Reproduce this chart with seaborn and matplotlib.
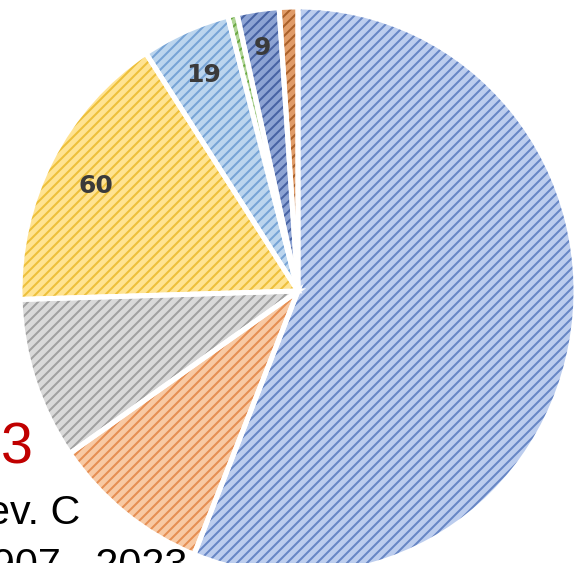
import matplotlib
matplotlib.use("Agg")
import matplotlib.pyplot as plt
import numpy as np
import seaborn as sns

# Slice data (clockwise from 12 o'clock)
categories = ["A", "B", "C", "D", "E", "F", "G", "H"]
values = [207, 34, 34, 60, 19, 2, 9, 4]
shown_labels = ["", "", "", "60", "19", "", "9", ""]
label_radius = [0.84, 0.84, 0.84, 0.82, 0.84, 0.84, 0.875, 0.84]

face_colors = ["#BCCDEE", "#F8C9A3", "#D9D9D9", "#FFE391",
               "#BBD5EE", "#B0D596", "#8DA3D3", "#E09C68"]
hatch_colors = ["#6685C4", "#E58E52", "#A0A0A0", "#EDBF3A",
                "#76A3D5", "#6AA842", "#4762A3", "#A95F28"]

sns.set_theme(style="white")
plt.rcParams["font.family"] = ["Liberation Sans", "DejaVu Sans"]
plt.rcParams["hatch.linewidth"] = 1.6

W, H, DPI = 582, 563, 90
fig = plt.figure(figsize=(W / DPI, H / DPI), dpi=DPI)
fig.patch.set_facecolor("white")
ax = fig.add_axes([0, 0, 1, 1])

# hatched fills
wedges, texts = ax.pie(
    values, labels=shown_labels, startangle=90, counterclock=False,
    colors=face_colors, labeldistance=0.84,
    wedgeprops=dict(linewidth=0, hatch="///"),
    textprops=dict(fontsize=20, fontweight="bold", color="#3a3a3a",
                   family="DejaVu Sans"),
)
for w, hc in zip(wedges, hatch_colors):
    w.set_edgecolor(hc)
    w.set_linewidth(0)
for w, t, r in zip(wedges, texts, label_radius):
    ang = np.deg2rad((w.theta1 + w.theta2) / 2)
    t.set_position((r * np.cos(ang), r * np.sin(ang)))
    t.set_ha("center")
    t.set_va("center_baseline")

# white separators between slices
ax.pie(values, startangle=90, counterclock=False,
       colors=["none"] * len(values),
       wedgeprops=dict(linewidth=4, edgecolor="white"))

cx, cy, rx, ry = 298, 291, 278, 284
ax.set_xlim(-cx / rx, (W - cx) / rx)
ax.set_ylim(-(H - cy) / ry, cy / ry)
ax.set_aspect("auto")
ax.axis("off")

# surrounding slide text
def px(x, y):
    return x / W, 1 - y / H

fig.text(*px(1, 463), "3", fontsize=46, color="#C00000",
         ha="left", va="baseline")
fig.text(*px(80, 524), "ev. C", fontsize=33, color="black",
         ha="right", va="baseline")
fig.text(*px(187, 577), "907,  2023", fontsize=33, color="black",
         ha="right", va="baseline")

fig.savefig("out.png", dpi=DPI, facecolor="white")
